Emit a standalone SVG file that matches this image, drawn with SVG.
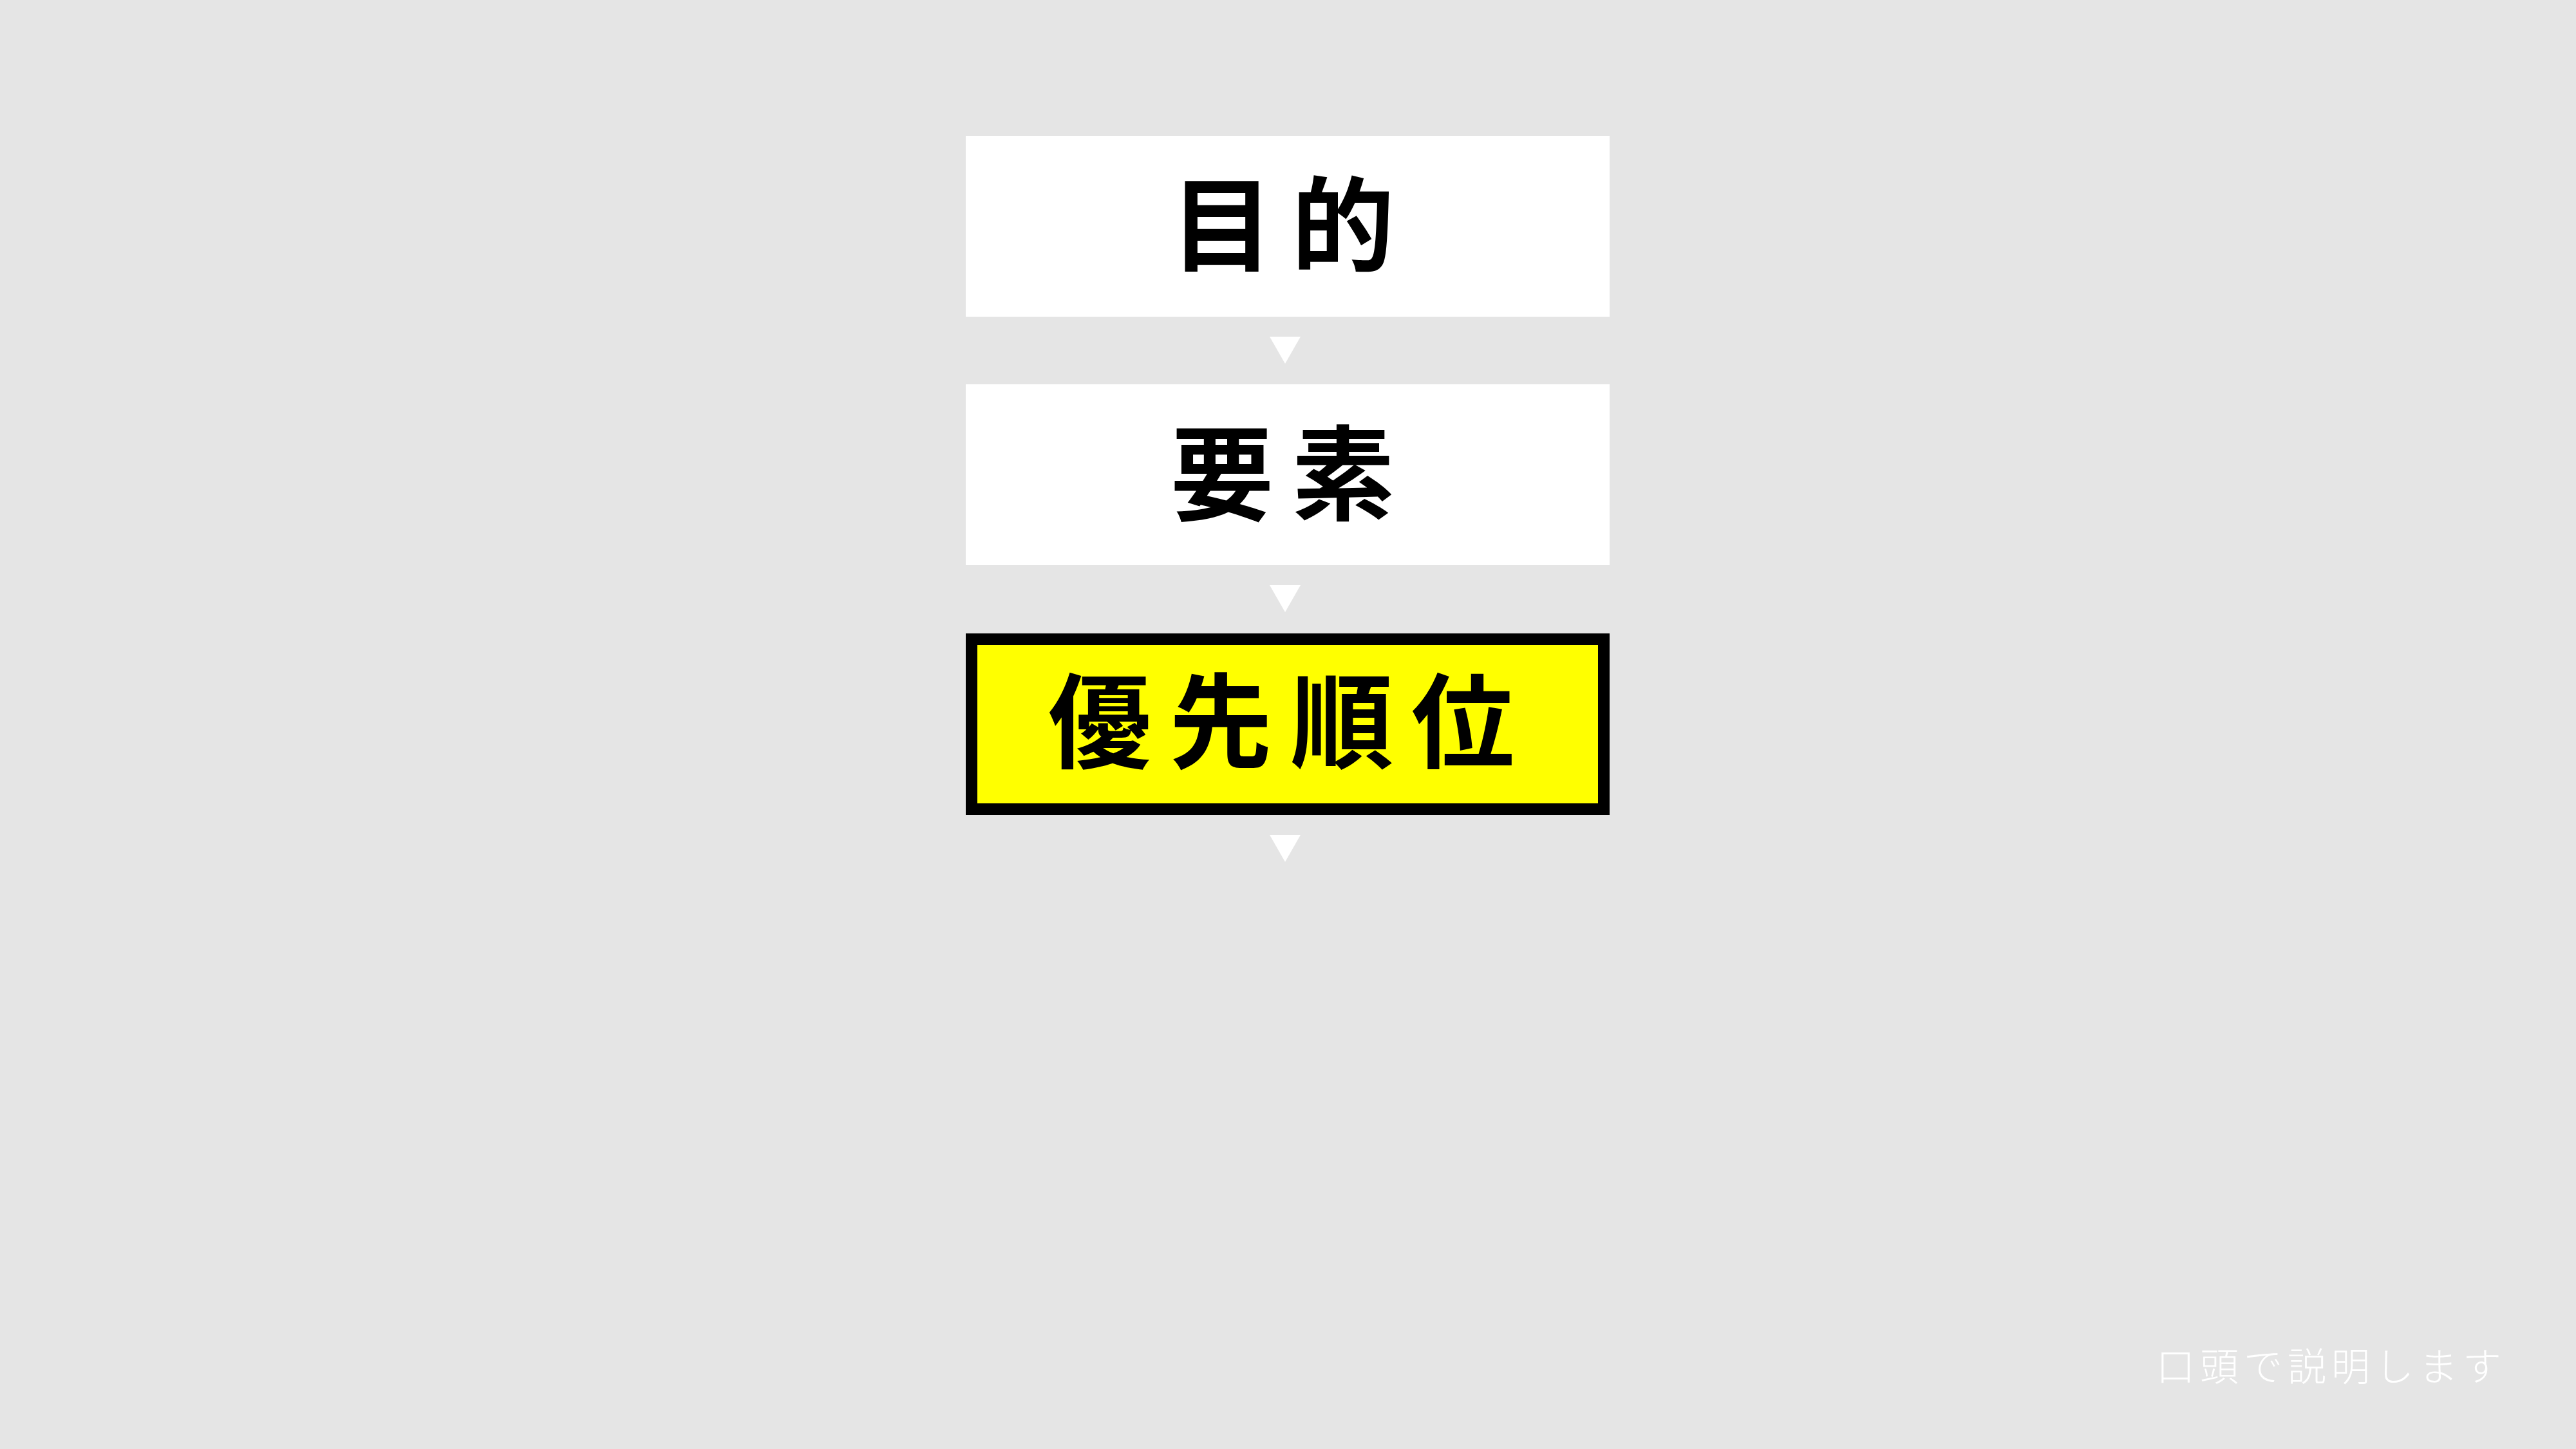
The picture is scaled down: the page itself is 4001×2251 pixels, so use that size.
<svg xmlns="http://www.w3.org/2000/svg" width="4001" height="2251" viewBox="0 0 4001 2251">
<style>
.big{font-family:"Noto Sans CJK JP","Noto Sans CJK SC",sans-serif;font-weight:700;font-size:160px;letter-spacing:28px;fill:#000}
.note{font-family:"Noto Sans CJK JP","Noto Sans CJK SC",sans-serif;font-weight:300;font-size:60px;letter-spacing:8px;fill:#fff}
.box{fill:#fff}
.arr{fill:#fff}
</style>
<rect x="0" y="0" width="4001" height="2251" fill="#e5e5e5"/>
<g id="node-mokuteki">
<rect class="box" x="1500" y="211" width="1000" height="281"/>
<text class="big" x="1818" y="409">目的</text>
</g>
<g id="node-youso">
<rect class="box" x="1500" y="597" width="1000" height="281"/>
<text class="big" x="1818" y="796">要素</text>
</g>
<g id="node-yuusenjuni">
<rect x="1509" y="993" width="982" height="264" fill="#ffff00" stroke="#000" stroke-width="18"/>
<text class="big" x="1628" y="1181">優先順位</text>
</g>
<g id="connectors">
<polygon class="arr" points="1972,523 2020,523 1996,565"/>
<polygon class="arr" points="1972,909 2020,909 1996,951"/>
<polygon class="arr" points="1972,1297 2020,1297 1996,1339"/>
</g>
<g id="note">
<text class="note" x="3349" y="2145">口頭で説明します</text>
</g>
</svg>
